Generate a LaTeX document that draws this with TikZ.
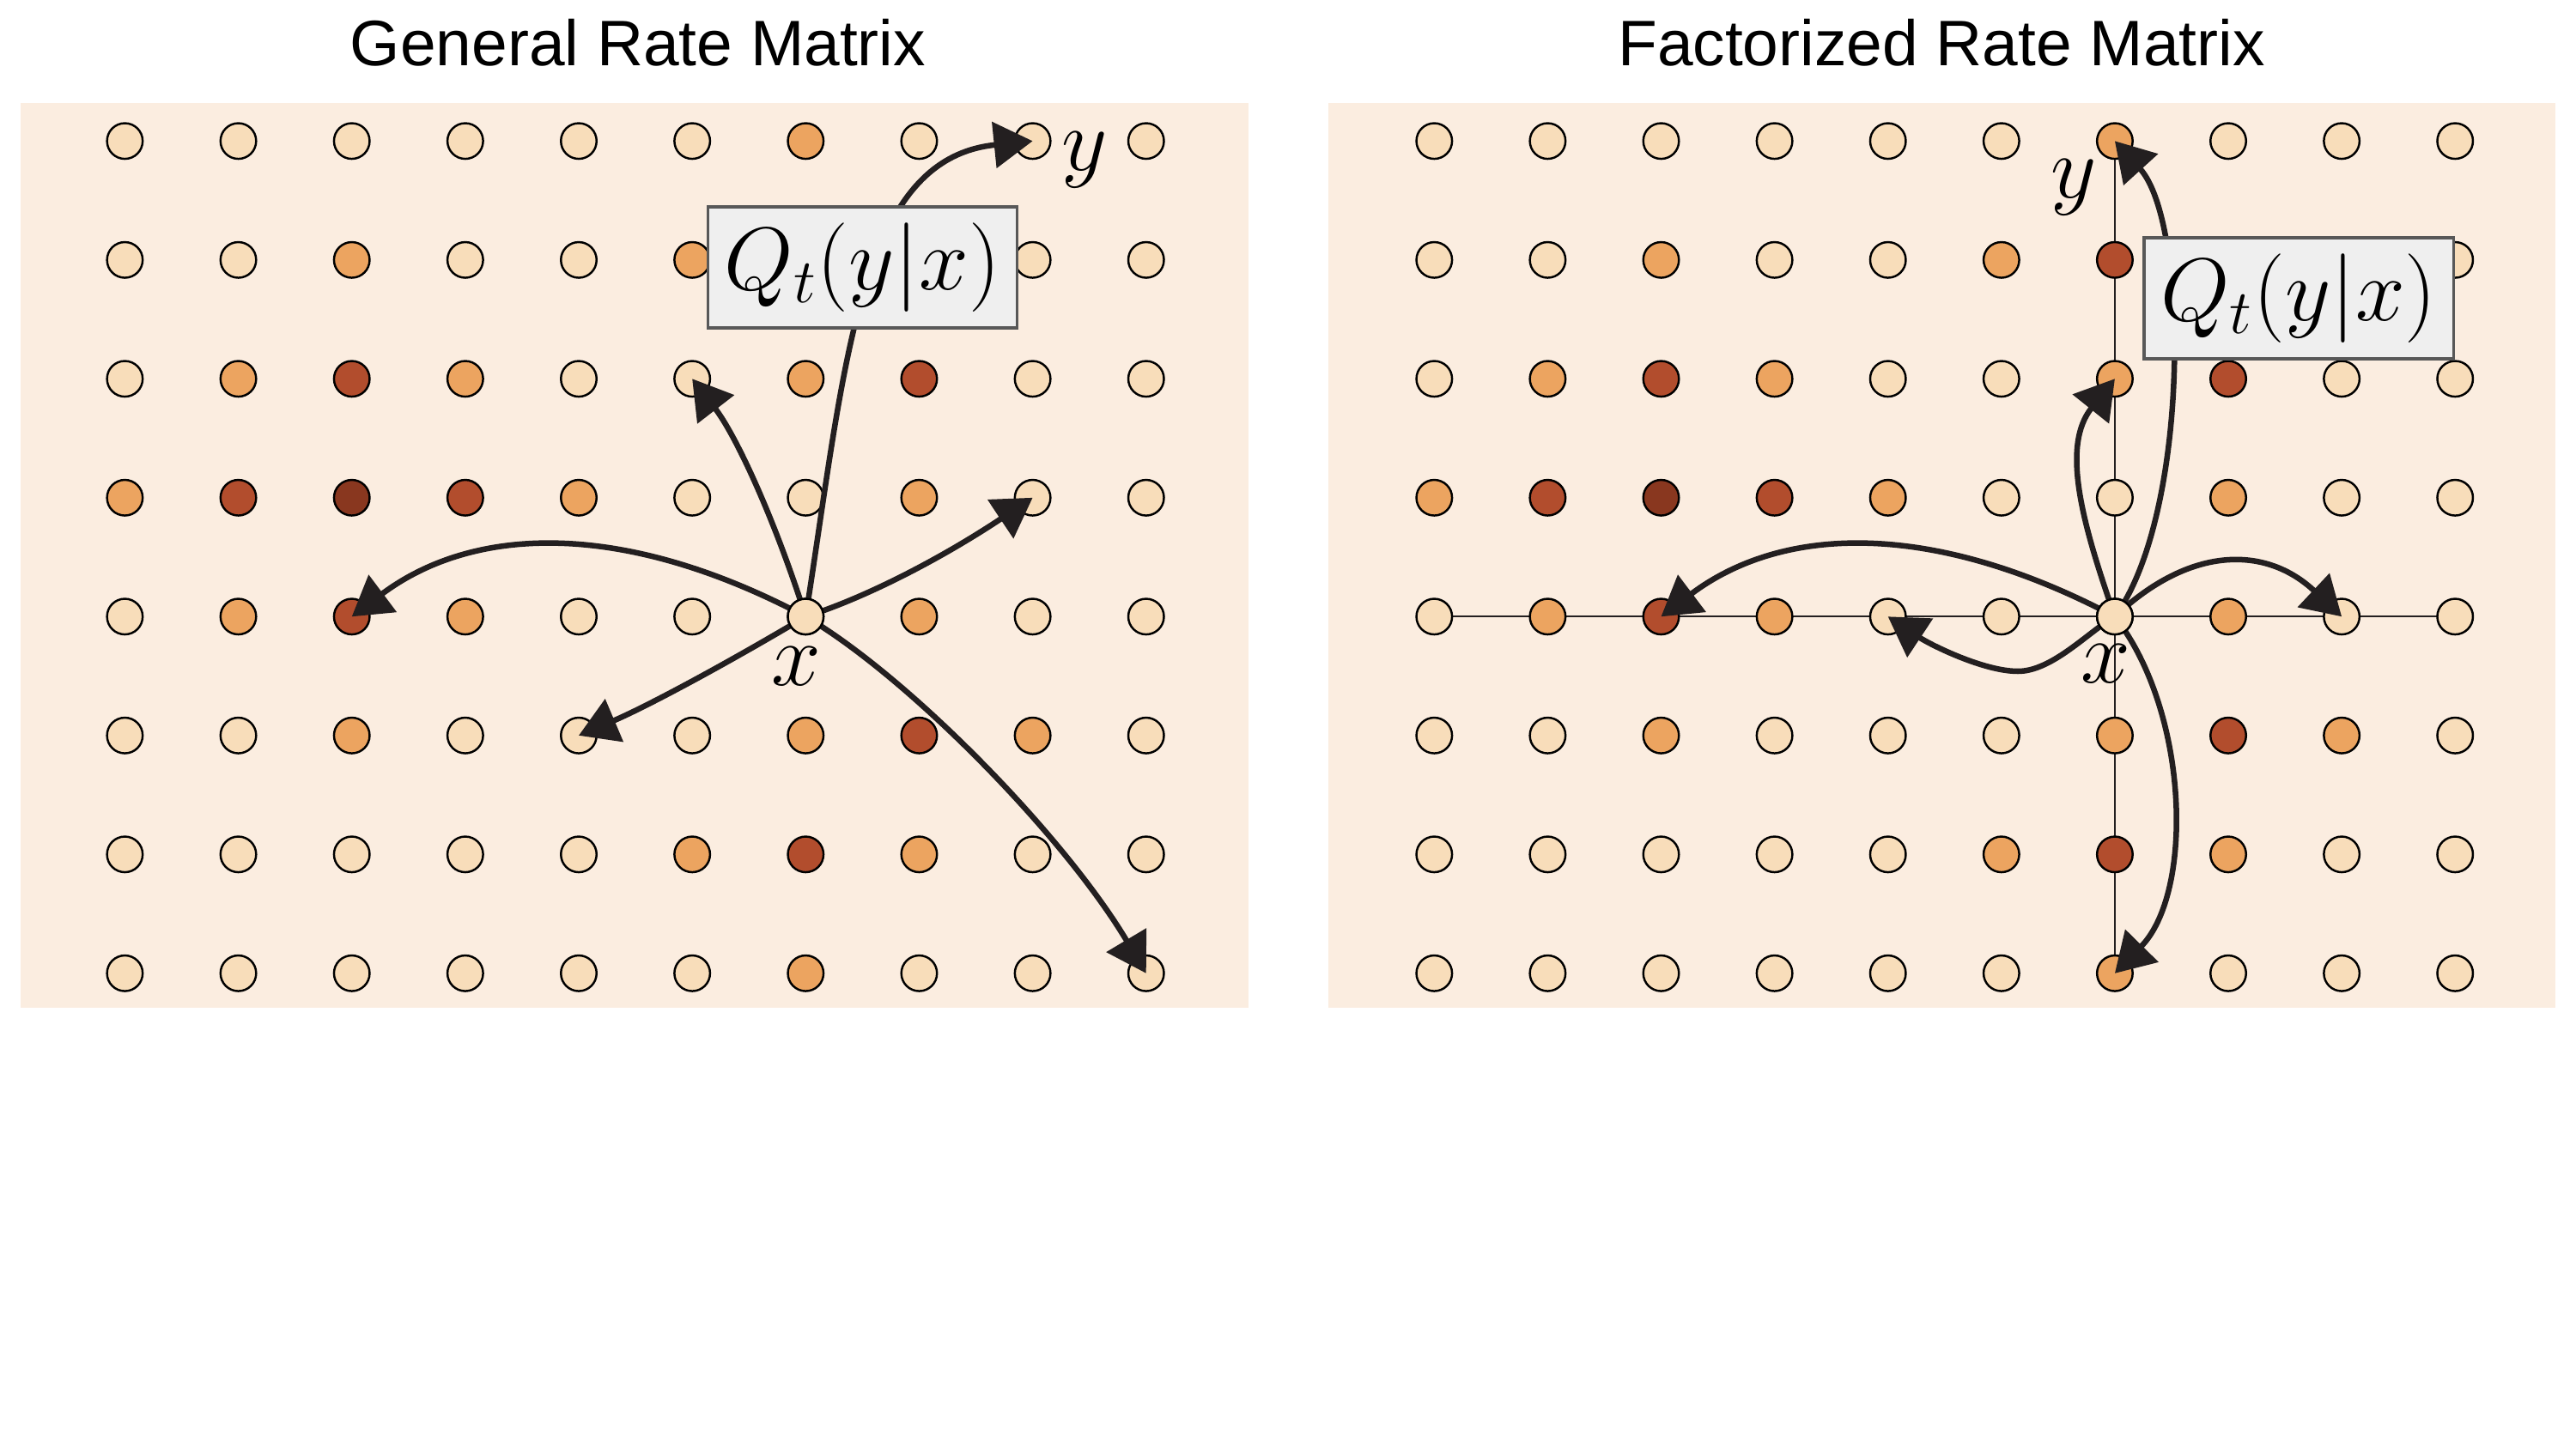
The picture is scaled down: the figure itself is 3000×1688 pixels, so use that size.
\RequirePackage{fix-cm}
\documentclass[tikz,border=0pt]{standalone}
\usepackage{fontspec}
\newfontfamily\titlefont{Liberation Sans}
\usetikzlibrary{arrows.meta}
\definecolor{bgc}{RGB}{251,237,224}
\definecolor{dotL}{RGB}{248,221,186}
\definecolor{dotM}{RGB}{236,164,96}
\definecolor{dotR}{RGB}{178,77,45}
\definecolor{dotD}{RGB}{137,55,31}
\definecolor{arrc}{RGB}{35,31,32}
\definecolor{boxfill}{RGB}{239,239,239}
\definecolor{boxdraw}{RGB}{88,88,88}
\pgfdeclarelayer{bg}
\pgfdeclarelayer{mid}
\pgfsetlayers{bg,mid,main}
\begin{document}
\begin{tikzpicture}[x=0.01cm,y=-0.01cm,
  dot/.style={circle, draw=black, line width=0.7pt, minimum size=0.415cm, inner sep=0pt},
  arr/.style={draw=arrc, line width=1.85pt, -{Triangle[length=0.45cm,width=0.53cm]}},
  thinline/.style={draw=arrc, line width=0.57pt},
  qbox/.style={draw=boxdraw, fill=boxfill, line width=0.9pt, inner sep=0pt,
    minimum width=3.6cm, minimum height=1.41cm, font=\fontsize{29.5}{30}\selectfont},
  lab/.style={inner sep=0pt, anchor=base, font=\fontsize{29.5}{30}\selectfont},
  ttl/.style={inner sep=0pt, anchor=base, font=\titlefont\fontsize{21.3}{25}\selectfont}]
\useasboundingbox (0,0) rectangle (3000,1688);
\begin{pgfonlayer}{bg}
\fill[white] (0,0) rectangle (3000,1688);
\fill[bgc] (24,120) rectangle (1454,1174);
\fill[bgc] (1547,120) rectangle (2976,1174);
\end{pgfonlayer}

\node[ttl] (t1) at (743,77) {General Rate Matrix};
\node[ttl] (t2) at (2261,77) {Factorized Rate Matrix};

% dots
\foreach \row [count=\j from 0] in {
  {L,L,L,L,L,L,M,L,L,L},
  {L,L,M,L,L,M,R,M,L,L},
  {L,M,R,M,L,L,M,R,L,L},
  {M,R,D,R,M,L,L,M,L,L},
  {L,M,R,M,L,L,L,M,L,L},
  {L,L,M,L,L,L,M,R,M,L},
  {L,L,L,L,L,M,R,M,L,L},
  {L,L,L,L,L,L,M,L,L,L}} {
  \foreach \c [count=\i from 0] in \row {
    \node[dot, fill=dot\c] (A\i\j) at ({145.4+132.15*\i},{164.3+138.5*\j}) {};
    \node[dot, fill=dot\c] (B\i\j) at ({1670.3+132.1*\i},{164.3+138.5*\j}) {};
  }
}

% crosshair in right panel
\begin{pgfonlayer}{mid}
\draw[thinline] (B04.center) -- (B94.center);
\draw[thinline] (B60.center) -- (B67.center);
\end{pgfonlayer}

% left arrows
\draw[arr] (A64.center) .. controls (985,420) and (1000,185) .. (A80.center);
\draw[arr] (A64.center) .. controls (899.6,597.4) and (855.6,505.2) .. (A52.center);
\draw[arr] (A64.center) .. controls (1006,697) and (1094,652) .. (A83.center);
\draw[arr] (A64.center) .. controls (732.1,608.8) and (555.7,608.8) .. (A24.center);
\draw[arr] (A64.center) .. controls (836.7,778.7) and (748.9,825) .. (A45.center);
\draw[arr] (A64.center) .. controls (1060,790) and (1240,975) .. (A97.center);
\node[dot, fill=dotL] (xa) at (A64) {};

% right arrows
\coordinate (low) at (2350,782);
\draw[arr] (B64.center) .. controls (2550,600) and (2550,260) .. (B60.center);
\draw[arr] (B64.center) .. controls (2425,610) and (2400,520) .. (B62.center);
\draw[arr] (B64.center) .. controls (2256,608.8) and (2079.9,608.8) .. (B24.center);
\draw[arr] (B64.center) .. controls (2550.7,635.4) and (2638.8,635.4) .. (B84.center);
\draw[arr] (B64.center) .. controls (2432,736) and (2390,782) .. (low)
  .. controls (2310,782) and (2248,751) .. (B44.center);
\draw[arr] (B64.center) .. controls (2550,830) and (2555,1040) .. (B67.center);
\node[dot, fill=dotL] (xb) at (B64) {};

% boxes
\node[qbox] (q1) at (1004.5,311.5) {$Q_t(y|x)$};
\node[qbox] (q2) at (2677,347.5) {$Q_t(y|x)$};

% labels
\node[lab] (xl1) at (927,798) {$x$};
\node[lab] (yl1) at (1263,199) {$y$};
\node[lab] (xl2) at (2452,795) {$x$};
\node[lab] (yl2) at (2415,230) {$y$};
\end{tikzpicture}
\end{document}
